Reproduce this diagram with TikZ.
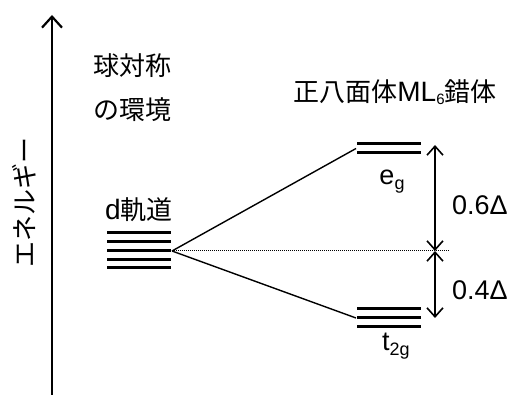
\documentclass[tikz,border=0pt]{standalone}
\usepackage{fontspec}
\setmainfont{Liberation Sans}
\newfontfamily\jp{Noto Sans CJK JP}
\usetikzlibrary{arrows.meta}
\tikzset{
  level/.style={line width=3pt},
  conn/.style={line width=1.4pt},
  lbl/.style={inner sep=0pt, font=\fontsize{26}{28}\selectfont},
  num/.style={inner sep=0pt, font=\fontsize{27}{28}\selectfont},
  gap/.style={line width=1.6pt, {Straight Barb[length=9pt,width=16pt,line width=1.6pt]}-{Straight Barb[length=9pt,width=16pt,line width=1.6pt]}},
}
\begin{document}
\begin{tikzpicture}[x=1pt,y=-1pt]
\useasboundingbox (0,0) rectangle (512,395);
% energy axis
\coordinate (axb) at (52,395);
\coordinate (axt) at (52,15);
\draw[line width=2.8pt, -{Straight Barb[length=11pt,width=20pt,line width=2.2pt]}] (axb) -- (axt);
\node[lbl, rotate=90] (en) at (24,203) {\jp エネルギー};
% headers
\node[lbl] (sph1) at (132,66) {\jp 球対称};
\node[lbl] (sph2) at (132,110) {\jp の環境};
\node[lbl] (oct) at (395,92) {\jp 正八面体\rmfamily\fontsize{28}{28}\selectfont ML\raisebox{-3pt}{\fontsize{15}{15}\selectfont 6}\jp\fontsize{26}{28}\selectfont 錯体};
% d orbitals
\node[lbl] (dlab) at (139,210) {\fontsize{28}{28}\selectfont d\jp\fontsize{26}{28}\selectfont 軌道};
\foreach \y in {233,242,251,260,268} \draw[level] (107,\y) -- (171,\y);
\coordinate (dp) at (172,251);
% eg
\foreach \y in {144,153} \draw[level] (357,\y) -- (421,\y);
\coordinate (egp) at (356,148.5);
\node[num] (eg) at (392,182) {e\raisebox{-5pt}{\fontsize{18}{18}\selectfont g}};
% t2g
\foreach \y in {309,318,327} \draw[level] (357,\y) -- (421,\y);
\coordinate (tp) at (356,318);
\node[num] (tg) at (396,346) {t\raisebox{-5pt}{\fontsize{18}{18}\selectfont 2g}};
% connectors
\draw[conn] (dp) -- (egp);
\draw[conn] (dp) -- (tp);
\coordinate (dotend) at (449,251);
\draw[line width=1pt, densely dotted] (dp) -- (dotend);
% gap arrows
\coordinate (a1) at (435,145);
\coordinate (a2) at (435,251);
\coordinate (a3) at (435,318);
\draw[gap] (a2) -- (a1);
\draw[gap] (a2) -- (a3);
\node[num, anchor=west] (l06) at (452,205) {0.6Δ};
\node[num, anchor=west] (l04) at (452,290) {0.4Δ};
\end{tikzpicture}
\end{document}
